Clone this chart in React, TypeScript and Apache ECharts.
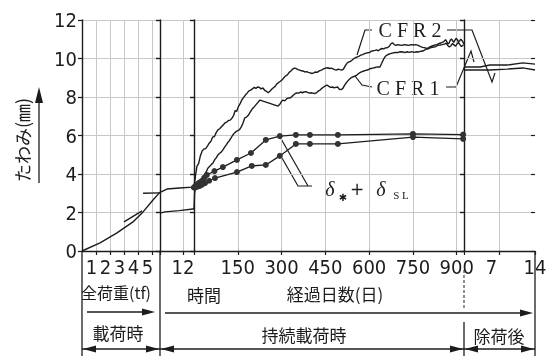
import React, { useEffect, useRef } from 'react';
import * as echarts from 'echarts';

// ---- tick labels ----
const yTicks = [0, 2, 4, 6, 8, 10, 12];
const loadTicks = [1, 2, 3, 4, 5];
const hourTicks = [12];
const dayTicks = [150, 300, 450, 600, 750, 900];
const afterTicks = [7, 14];

// ---- loading stage (total load tf) ----
const loadTf = [0, 1.29, 2.5, 3.64, 4.36, 5.07, 5.57];
const loadDefl = [0, 0.42, 0.94, 1.51, 2.03, 2.65, 3.06];
const calcATf = [3.0, 4.29];
const calcADefl = [1.51, 2.08];
const calcBTf = [4.36, 5.57];
const calcBDefl = [3.0, 3.02];

// ---- hours ----
const hoursUpperH = [0, 3.6, 10, 17.2, 17.7];
const hoursUpperV = [3.04, 3.22, 3.27, 3.32, 3.33];
const hoursLowerH = [0, 2.6, 10, 17.2, 17.7];
const hoursLowerV = [1.97, 2.03, 2.1, 2.18, 2.18];

// ---- sustained loading (days) ----
const cfr2Days = [0, 5, 10, 16, 22, 28, 34, 40, 46, 52, 58, 64, 70, 76, 82, 88, 94, 100, 106, 112, 118, 124, 130, 136, 141, 146, 152, 158, 164, 170, 176, 182, 188, 194, 200, 206, 212, 218, 224, 230, 236, 242, 248, 254, 260, 266, 272, 278, 284, 290, 296, 302, 308, 314, 320, 326, 332, 338, 344, 350, 356, 362, 368, 374, 380, 386, 392, 398, 404, 410, 416, 422, 428, 434, 440, 446, 452, 458, 464, 470, 476, 482, 488, 494, 500, 506, 512, 518, 524, 530, 536, 542, 548, 554, 560, 566, 572, 578, 584, 590, 596, 602, 608, 614, 620, 626, 632, 638, 644, 650, 656, 662, 668, 674, 680, 686, 692, 698, 704, 712, 720, 728, 736, 744, 752, 760, 768, 776, 784, 792, 800, 808, 816, 824, 832, 840, 848, 856, 862, 866, 870, 874, 878, 882, 886, 890, 894, 898, 902, 906, 910, 914, 918, 922, 925];
const cfr2Values = [3.32, 3.9, 4.4, 4.55, 4.95, 5.2, 5.3, 5.32, 5.45, 5.6, 5.7, 5.92, 5.95, 6.15, 6.29, 6.35, 6.45, 6.55, 6.65, 6.7, 6.78, 6.8, 6.9, 7.05, 7.3, 7.25, 7.5, 7.65, 7.85, 7.98, 8.1, 8.2, 8.32, 8.36, 8.42, 8.5, 8.45, 8.52, 8.5, 8.42, 8.47, 8.35, 8.3, 8.22, 8.3, 8.4, 8.48, 8.55, 8.68, 8.75, 8.82, 8.9, 9.0, 9.1, 9.15, 9.28, 9.35, 9.45, 9.5, 9.48, 9.42, 9.4, 9.36, 9.35, 9.3, 9.32, 9.28, 9.25, 9.22, 9.25, 9.3, 9.28, 9.35, 9.38, 9.42, 9.48, 9.5, 9.52, 9.48, 9.5, 9.46, 9.42, 9.4, 9.45, 9.42, 9.4, 9.45, 9.62, 9.75, 9.82, 9.85, 9.92, 10.0, 10.05, 10.08, 10.12, 10.18, 10.2, 10.25, 10.28, 10.3, 10.32, 10.38, 10.4, 10.42, 10.45, 10.4, 10.48, 10.52, 10.5, 10.55, 10.56, 10.62, 10.75, 10.82, 10.72, 10.68, 10.72, 10.7, 10.68, 10.72, 10.7, 10.68, 10.72, 10.7, 10.72, 10.68, 10.62, 10.58, 10.55, 10.52, 10.6, 10.65, 10.7, 10.72, 10.78, 10.82, 10.88, 10.98, 10.88, 10.75, 10.8, 10.95, 11.02, 10.92, 10.84, 10.95, 11.05, 10.98, 10.86, 10.92, 11.0, 10.94, 10.84, 10.75];

const cfr1Days = [0, 2, 5, 10, 15, 20, 26, 31, 37, 43, 48, 54, 60, 65, 71, 77, 82, 88, 94, 99, 105, 110, 115, 120, 126, 132, 138, 144, 150, 156, 162, 168, 174, 180, 186, 192, 198, 204, 214, 226, 288, 294, 300, 305, 311, 317, 323, 329, 335, 341, 347, 353, 359, 365, 371, 377, 383, 389, 395, 401, 407, 413, 419, 425, 432, 438, 444, 450, 456, 462, 468, 474, 480, 486, 492, 498, 504, 510, 516, 522, 528, 534, 540, 546, 552, 558, 564, 570, 576, 582, 588, 594, 600, 606, 612, 618, 624, 630, 637, 643, 649, 655, 661, 667, 673, 679, 685, 691, 697, 703, 710, 716, 722, 730, 738, 746, 754, 762, 770, 778, 786, 794, 802, 809, 816, 822, 828, 834, 843, 850, 858, 864, 870, 875, 880, 886, 890, 896, 901, 906, 911, 916, 920, 924];
const cfr1Values = [2.18, 3.0, 3.25, 3.35, 3.45, 3.5, 3.72, 3.84, 4.0, 4.15, 4.31, 4.4, 4.5, 4.57, 4.75, 4.85, 4.99, 5.08, 5.15, 5.25, 5.4, 5.5, 5.62, 5.71, 5.85, 6.0, 6.12, 6.2, 6.25, 6.3, 6.45, 6.65, 6.92, 6.96, 7.05, 7.2, 7.35, 7.45, 7.63, 7.84, 7.53, 7.62, 7.78, 7.84, 7.8, 7.9, 7.95, 7.95, 8.02, 8.1, 8.18, 8.21, 8.2, 8.26, 8.22, 8.26, 8.28, 8.24, 8.2, 8.22, 8.2, 8.18, 8.21, 8.3, 8.36, 8.45, 8.52, 8.58, 8.62, 8.55, 8.5, 8.52, 8.48, 8.5, 8.52, 8.4, 8.38, 8.45, 8.62, 8.75, 8.85, 8.95, 9.02, 9.05, 9.1, 9.14, 9.22, 9.28, 9.32, 9.35, 9.38, 9.4, 9.45, 9.48, 9.5, 9.52, 9.55, 9.56, 9.56, 9.75, 9.95, 10.1, 10.18, 10.22, 10.25, 10.28, 10.3, 10.32, 10.3, 10.34, 10.35, 10.34, 10.3, 10.35, 10.32, 10.36, 10.32, 10.35, 10.34, 10.38, 10.4, 10.48, 10.5, 10.55, 10.58, 10.6, 10.62, 10.68, 10.7, 10.72, 10.75, 10.8, 10.66, 10.6, 10.66, 10.78, 10.72, 10.64, 10.75, 10.84, 10.72, 10.62, 10.68, 10.7];

// calculated delta* + delta_SL (two curves, with markers)
const calc1Days = [0, 3, 6, 10, 14, 20, 27, 35, 44, 70, 99, 147, 195, 246, 294, 349, 397, 493, 750, 922];
const calc1Values = [3.3, 3.34, 3.38, 3.43, 3.5, 3.56, 3.64, 3.8, 3.95, 4.15, 4.36, 4.73, 5.09, 5.77, 5.97, 6.03, 6.03, 6.03, 6.08, 6.05];
const calc2Days = [0, 4, 8, 13, 20, 28, 38, 52, 72, 147, 198, 246, 294, 349, 397, 493, 750, 922];
const calc2Values = [3.3, 3.31, 3.33, 3.35, 3.38, 3.45, 3.53, 3.65, 3.79, 4.1, 4.42, 4.47, 4.94, 5.56, 5.56, 5.56, 5.92, 5.82];

// ---- after unloading (days) ----
const after2Days = [0, 3.2, 5.1, 8.5, 11.6, 14];
const after2Values = [9.56, 9.56, 9.66, 9.66, 9.77, 9.71];
const after1Days = [0, 3.2, 5.1, 8.5, 11.6, 14];
const after1Values = [9.4, 9.4, 9.4, 9.45, 9.51, 9.4];

const zip = (a: number[], b: number[]) => a.map((x, i) => [x, b[i]]);

const ink = '#1c1c1c';
const gridInk = '#c8c8c8';
const cjk = '"Noto Sans CJK JP", "Noto Sans CJK SC", sans-serif';
const num = '"Liberation Sans Narrow", "DejaVu Sans Condensed", "Liberation Sans", sans-serif';
const serif = '"Liberation Serif", "DejaVu Serif", serif';

export default function App() {
  const ref = useRef<HTMLDivElement>(null);
  useEffect(() => {
    if (!ref.current) return;
    const chart = echarts.init(ref.current, undefined, { renderer: 'svg' });

    const grids = [
      { left: 82, top: 20, width: 78, height: 231 },
      { left: 160, top: 20, width: 34, height: 231 },
      { left: 194, top: 20, width: 270, height: 231 },
      { left: 464, top: 20, width: 71, height: 231 },
    ];
    const xSpecs = [
      { max: 5.57, interval: 1, ticks: loadTicks },
      { max: 17.7, interval: 12, ticks: hourTicks },
      { max: 925, interval: 150, ticks: dayTicks },
      { max: 14, interval: 7, ticks: afterTicks },
    ];

    const xAxis = xSpecs.map((s, i) => ({
      type: 'value',
      gridIndex: i,
      min: 0,
      max: s.max,
      interval: s.interval,
      axisLine: { show: true, onZero: false, lineStyle: { color: ink, width: 1.4 } },
      axisTick: { show: true, length: 4, lineStyle: { color: ink, width: 1.2 } },
      splitLine: { show: true, showMinLine: false, showMaxLine: false, lineStyle: { color: gridInk, type: 'solid', width: 1 } },
      axisLabel: {
        show: true,
        margin: 6,
        fontFamily: num,
        fontSize: 20,
        color: ink,
        showMinLabel: false,
        formatter: (v: number) => (s.ticks.includes(v) ? (i === 3 && v === 7 ? '{l|7}' : String(v)) : ''),
        padding: i === 0 ? [0, 9, 0, 0] : 0,
        rich: { l: { fontFamily: num, fontSize: 20, color: ink, padding: [0, 16, 0, 0] } },
      },
    }));

    const yAxis: any[] = [];
    grids.forEach((_, i) => {
      yAxis.push({
        type: 'value',
        gridIndex: i,
        min: 0,
        max: 12,
        interval: 2,
        axisLine: { show: true, lineStyle: { color: ink, width: 1.4 } },
        axisTick: { show: true, length: 4, lineStyle: { color: ink, width: 1.2 } },
        splitLine: { show: true, showMinLine: false, lineStyle: { color: gridInk, type: 'solid', width: 1 } },
        axisLabel: {
          show: i === 0,
          margin: 5,
          fontFamily: num,
          fontSize: 20,
          color: ink,
          verticalAlign: 'middle',
          padding: [0, 0, 14, 0],
          formatter: (v: number) => (yTicks.includes(v) ? String(v) : ''),
        },
      });
      yAxis.push({
        type: 'value',
        gridIndex: i,
        min: 0,
        max: 12,
        interval: 2,
        axisLine: { show: false },
        axisTick: { show: true, inside: true, length: 4, lineStyle: { color: ink, width: 1.2 } },
        splitLine: { show: false },
        axisLabel: { show: false },
      });
    });

    const plain = (g: number, data: number[][]) => ({
      type: 'line',
      xAxisIndex: g,
      yAxisIndex: g * 2,
      data,
      symbol: 'none',
      lineStyle: { color: ink, width: 1.4 },
      silent: true,
    });
    const marked = (data: number[][]) => ({
      type: 'line',
      xAxisIndex: 2,
      yAxisIndex: 4,
      data,
      symbol: 'circle',
      symbolSize: 6,
      showAllSymbol: true,
      itemStyle: { color: '#333' },
      lineStyle: { color: ink, width: 1.3 },
      silent: true,
    });

    const series = [
      plain(0, zip(loadTf, loadDefl)),
      plain(0, zip(calcATf, calcADefl)),
      plain(0, zip(calcBTf, calcBDefl)),
      plain(1, zip(hoursUpperH, hoursUpperV)),
      plain(1, zip(hoursLowerH, hoursLowerV)),
      plain(2, zip(cfr2Days, cfr2Values)),
      plain(2, zip(cfr1Days, cfr1Values)),
      marked(zip(calc1Days, calc1Values)),
      marked(zip(calc2Days, calc2Values)),
      plain(3, zip(after2Days, after2Values)),
      plain(3, zip(after1Days, after1Values)),
    ];

    const ln = (x1: number, y1: number, x2: number, y2: number, extra: any = {}) => ({
      type: 'line',
      shape: { x1, y1, x2, y2 },
      style: { stroke: ink, lineWidth: 1.3, ...extra },
      silent: true,
    });
    const pl = (pts: number[][], w = 1.2) => ({
      type: 'polyline',
      shape: { points: pts },
      style: { stroke: ink, lineWidth: w, fill: 'none' },
      silent: true,
    });
    const headR = (x: number, y: number) => ({
      type: 'polygon',
      shape: { points: [[x, y], [x - 13, y - 3.5], [x - 13, y + 3.5]] },
      style: { fill: ink },
      silent: true,
    });
    const headL = (x: number, y: number) => ({
      type: 'polygon',
      shape: { points: [[x, y], [x + 13, y - 3.5], [x + 13, y + 3.5]] },
      style: { fill: ink },
      silent: true,
    });
    const txt = (x: number, y: number, text: string, font: string, size: number, extra: any = {}) => ({
      type: 'text',
      x,
      y,
      style: { text, fontFamily: font, fontSize: size, fill: ink, align: 'center', verticalAlign: 'middle', ...extra },
      silent: true,
    });

    const graphic = [
      // boundary extensions below the axis
      ln(82, 251, 82, 356),
      ln(160, 251, 160, 356),
      ln(464, 270, 464, 308, { lineDash: [3, 2], stroke: '#555' }),
      ln(464, 322, 464, 356),
      ln(535, 251, 535, 356),
      // arrows row 1
      ln(87, 312, 143, 312),
      headR(155, 312),
      ln(165, 313, 521, 313),
      headR(533, 313),
      // arrows row 2
      ln(82, 349, 160, 349),
      headL(83, 349),
      headR(159, 349),
      ln(160, 349, 464, 349),
      headL(161, 349),
      headR(463, 349),
      ln(464, 349, 535, 349),
      headL(465, 349),
      headR(534, 349),
      // axis captions
      txt(116, 292, '全荷重(tf)', cjk, 16),
      txt(204, 294, '時間', cjk, 17),
      txt(335, 293, '経過日数(日)', cjk, 17),
      txt(118, 332, '載荷時', cjk, 17),
      txt(304, 334, '持続載荷時', cjk, 17),
      txt(499, 335, '除荷後', cjk, 17),
      // y title + arrow
      { type: 'text', x: 22, y: 140, rotation: Math.PI / 2, style: { text: 'たわみ(㎜)', fontFamily: cjk, fontSize: 18, fill: ink, align: 'center', verticalAlign: 'middle' }, silent: true },
      ln(39, 183, 39, 100),
      { type: 'polygon', shape: { points: [[39, 87], [35, 103], [43, 103]] }, style: { fill: ink }, silent: true },
      // CFR labels and leaders
      txt(410, 30, 'C F R 2', serif, 20),
      txt(408, 88, 'C F R 1', serif, 20),
      pl([[357, 55], [365, 30], [372, 30]]),
      pl([[447, 30], [472, 30], [492, 82], [495, 73]]),
      pl([[355, 76], [362, 85], [372, 87]]),
      pl([[446, 87], [456, 87], [471, 51], [474, 62]]),
      // delta label and leaders
      pl([[280, 137], [308, 186]]),
      pl([[282, 158], [298, 186], [312, 186]]),
      txt(330, 189, 'δ', serif, 20, { fontStyle: 'italic' }),
      txt(343, 197, '✱', '"DejaVu Sans", sans-serif', 10),
      txt(357, 189, '+', '"DejaVu Sans", sans-serif', 17),
      txt(381, 189, 'δ', serif, 20, { fontStyle: 'italic' }),
      txt(401, 195, 'S L', serif, 11),
    ];

    chart.setOption({
      animation: false,
      grid: grids,
      xAxis,
      yAxis,
      series,
      graphic,
    } as any);
    return () => chart.dispose();
  }, []);
  return <div ref={ref} style={{ position: 'fixed', left: 0, top: 0, width: 550, height: 358 }} />;
}
